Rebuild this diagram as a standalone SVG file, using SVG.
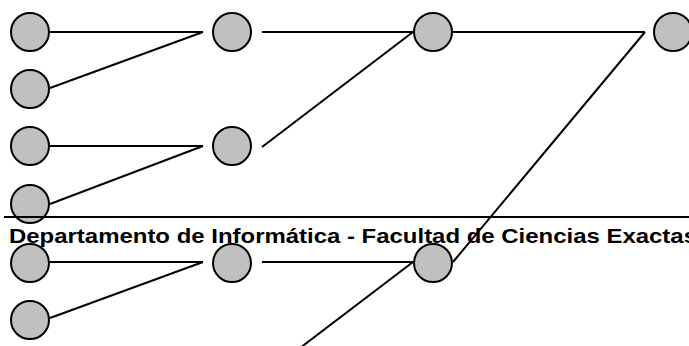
<svg xmlns="http://www.w3.org/2000/svg" width="689" height="346" viewBox="0 0 689 346">
  <style>
    .node { fill: #C0C0C0; stroke: #000; stroke-width: 2; }
    .conn { stroke: #000; stroke-width: 2; fill: none; }
    .title { font-family: "Liberation Sans", Arial, sans-serif; font-weight: bold; font-size: 21px; fill: #000; }
  </style>
  <rect width="689" height="346" fill="#fff"/>
  <g id="connectors">
    <line class="conn" x1="50" y1="32" x2="203" y2="32"/>
    <line class="conn" x1="50" y1="88" x2="203" y2="32"/>
    <line class="conn" x1="262" y1="32" x2="413" y2="32"/>
    <line class="conn" x1="262" y1="147" x2="413" y2="32"/>
    <line class="conn" x1="453" y1="32" x2="645" y2="32"/>
    <line class="conn" x1="645" y1="32" x2="453" y2="262"/>
    <line class="conn" x1="50" y1="146" x2="203" y2="146"/>
    <line class="conn" x1="50" y1="204" x2="203" y2="146"/>
    <line class="conn" x1="50" y1="262" x2="203" y2="262"/>
    <line class="conn" x1="50" y1="318" x2="203" y2="262"/>
    <line class="conn" x1="262" y1="262" x2="413" y2="262"/>
    <line class="conn" x1="413" y1="262" x2="300" y2="348"/>
  </g>
  <g id="n1"><circle class="node" cx="30" cy="32" r="19"/></g>
  <g id="n2"><circle class="node" cx="30" cy="89" r="19"/></g>
  <g id="n3"><circle class="node" cx="30" cy="146" r="19"/></g>
  <g id="n4"><circle class="node" cx="30" cy="204" r="19"/></g>
  <g id="n5"><circle class="node" cx="30" cy="263" r="19"/></g>
  <g id="n6"><circle class="node" cx="30" cy="320" r="19"/></g>
  <g id="n7"><circle class="node" cx="232" cy="32" r="19"/></g>
  <g id="n8"><circle class="node" cx="232" cy="146" r="19"/></g>
  <g id="n9"><circle class="node" cx="232" cy="263" r="19"/></g>
  <g id="n10"><circle class="node" cx="433" cy="32" r="19"/></g>
  <g id="n11"><circle class="node" cx="433" cy="263" r="19"/></g>
  <g id="n12"><circle class="node" cx="673" cy="32" r="19"/></g>
  <g id="footer">
    <line class="conn" x1="4" y1="217" x2="689" y2="217"/>
    <text class="title" x="9" y="243" textLength="688" lengthAdjust="spacingAndGlyphs">Departamento de Informática - Facultad de Ciencias Exactas</text>
  </g>
</svg>
